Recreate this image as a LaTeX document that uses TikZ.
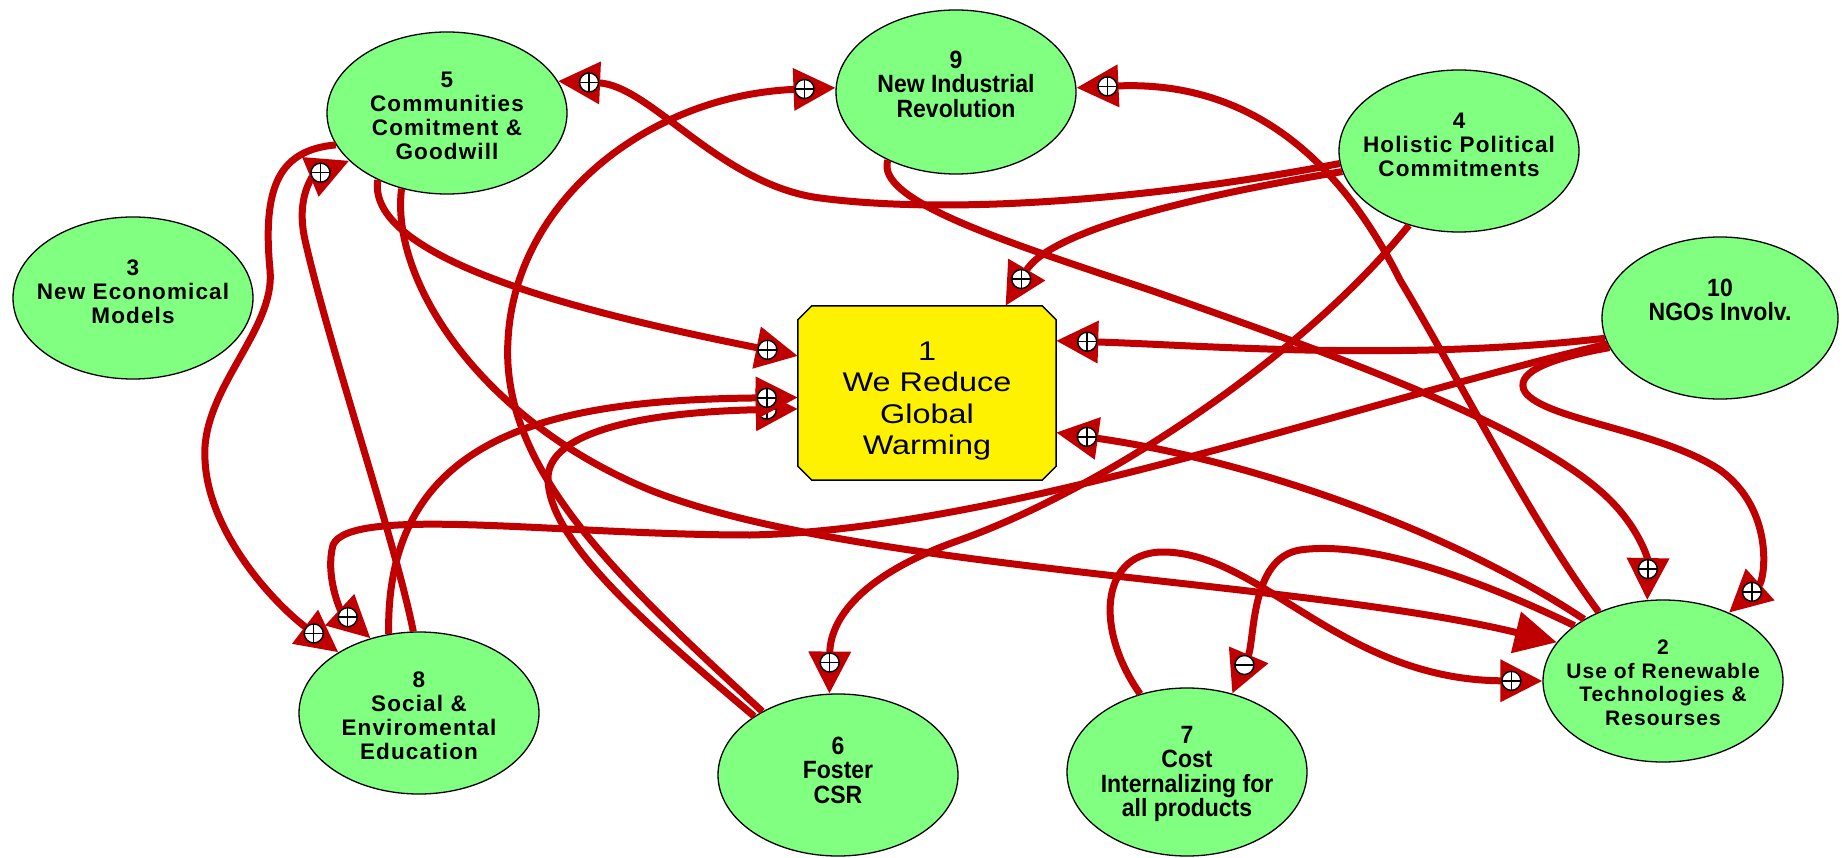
\documentclass[tikz,border=0pt]{standalone}
\usepackage{fontspec}
\setmainfont{Liberation Sans}
\newfontfamily\widefont{Liberation Sans}[LetterSpace=5]
\newfontfamily\narrowfont{Liberation Sans}[FakeStretch=0.92]
\newfontfamily\boxfont{Liberation Sans}[FakeStretch=1.2]
\usetikzlibrary{arrows.meta,shapes.geometric,calc}
\definecolor{linkred}{RGB}{192,0,0}
\definecolor{nodegreen}{RGB}{128,255,128}
\tikzset{
  ell/.style={ellipse, draw=black, line width=1.3pt, fill=nodegreen, minimum width=240pt, minimum height=162pt, inner sep=0pt},
  wlbl/.style={align=center, inner sep=0pt, font=\widefont\bfseries\fontsize{22.5pt}{24pt}\selectfont},
  slbl/.style={align=center, inner sep=0pt, font=\widefont\bfseries\fontsize{21pt}{23.5pt}\selectfont},
  nlbl/.style={align=center, inner sep=0pt, font=\narrowfont\bfseries\fontsize{25pt}{24.5pt}\selectfont},
  glbl/.style={align=center, inner sep=0pt, font=\boxfont\fontsize{27pt}{31.5pt}\selectfont},
  goalframe/.style={rectangle, draw=none, minimum width=258pt, minimum height=174pt, inner sep=0pt},
  goalfill/.style={fill=yellow, draw=black, line width=1.5pt, line join=miter},
  link/.style={draw=linkred, line width=7pt, -{Triangle[length=42pt,width=41pt]}},
  pics/possign/.style={code={
    \draw[black,line width=1.4pt,fill=white] (0,0) circle (9.5pt);
    \draw[black,line width=1.4pt] (0,-9.5) -- (0,9.5) (-9.5,0) -- (9.5,0);}},
  pics/negsign/.style={code={
    \draw[black,line width=1.4pt,fill=white] (0,0) circle (9.5pt);
    \draw[black,line width=1.6pt] (-9.5,0) -- (9.5,0);}}
}
\begin{document}
\begin{tikzpicture}[x=1pt,y=-1pt]
\fill[white] (0,0) rectangle (1842,858);
\useasboundingbox (0,0) rectangle (1842,858);

% goal box (chamfered)
\node[goalframe] (n1) at (927,393) {};
\filldraw[goalfill] ($(n1.north west)+(14,0)$) -- ($(n1.north east)+(-14,0)$) -- ($(n1.north east)+(0,14)$)
  -- ($(n1.south east)+(0,-14)$) -- ($(n1.south east)+(-14,0)$) -- ($(n1.south west)+(14,0)$)
  -- ($(n1.south west)+(0,-14)$) -- ($(n1.north west)+(0,14)$) -- cycle;

% nodes
\node[ell] (n2) at (1663,681) {};
\node[ell] (n3) at (133,298) {};
\node[ell] (n4) at (1459,151) {};
\node[ell] (n5) at (447,113) {};
\node[ell] (n6) at (838,775) {};
\node[ell, minimum height=168pt] (n7) at (1187,772) {};
\node[ell] (n8) at (419,713) {};
\node[ell, minimum height=164pt] (n9) at (956,92) {};
\node[ell, minimum width=236pt] (n10) at (1720,318) {};

% labels
\node[glbl] (t1) at ($(n1)+(0,8)$) {1\\We Reduce\\Global\\Warming};
\node[slbl] (t2) at ($(n2)+(0,2)$) {2\\Use of Renewable\\Technologies \&\\Resourses};
\node[wlbl] (t3) at ($(n3)+(0,-6)$) {3\\New Economical\\Models};
\node[wlbl] (t4) at ($(n4)+(0,-6)$) {4\\Holistic Political\\Commitments};
\node[wlbl] (t5) at ($(n5)+(0,3)$) {5\\Communities\\Comitment \&\\Goodwill};
\node[nlbl] (t6) at ($(n6)+(0,-5)$) {6\\Foster\\CSR};
\node[nlbl] (t7) at ($(n7)+(0,2)$) {7\\Cost\\Internalizing for\\all products};
\node[wlbl] (t8) at ($(n8)+(0,3)$) {8\\Social \&\\Enviromental\\Education};
\node[nlbl] (t9) at ($(n9)+(0,-8)$) {9\\New Industrial\\Revolution};
\node[nlbl] (t10) at ($(n10)+(0,-18)$) {10\\NGOs Involv.};

% 5 -> 1
\draw[link] (n5.224) .. controls (365,265) and (620,320) .. (n1.164);
\pic at ($(n1.164)!31pt!(620,320)$) {possign};
% 6 -> 1
\draw[link] (n6.145) .. controls (640,620) and (550,540) .. (548,480) .. controls (546,430) and (650,412) .. (n1.187);
\pic at ($(n1.187)!31pt!(650,412)$) {possign};
% 8 -> 1
\draw[link] (n8.111) .. controls (385,430) and (560,400) .. (n1.182);
\pic at ($(n1.182)!31pt!(560,400)$) {possign};
% 8 -> 5
\draw[link] (n8.94) .. controls (395,540) and (330,350) .. (305,240) .. controls (295,195) and (315,175) .. (n5.206);
\pic at ($(n5.206)!31pt!(315,175)$) {possign};
% 5 -> 8
\draw[link] (n5.196) .. controls (280,150) and (262,185) .. (270,270) .. controls (276,330) and (200,390) .. (205,460) .. controls (208,530) and (270,600) .. (n8.143);
\pic at ($(n8.143)!31pt!(270,600)$) {possign};
% 10 -> 8
\draw[link] (n10.193) .. controls (1350,405) and (1000,530) .. (750,535) .. controls (560,535) and (350,505) .. (333,545) .. controls (325,575) and (340,610) .. (n8.123);
\pic at ($(n8.123)!31pt!(340,610)$) {possign};
% 4 -> 5
\draw[link] (n4.186) .. controls (1150,200) and (950,215) .. (820,198) .. controls (720,185) and (650,85) .. (n5.16);
\pic at ($(n5.16)!31pt!(650,85)$) {possign};
% 4 -> 1
\draw[link] (n4.190) .. controls (1200,195) and (1050,230) .. (n1.48);
\pic at ($(n1.48)!31pt!(1050,230)$) {possign};
% 4 -> 6
\draw[link] (n4.236) .. controls (1300,360) and (1100,490) .. (960,540) .. controls (860,575) and (830,620) .. (n6.96);
\pic at ($(n6.96)!31pt!(830,620)$) {possign};
% 10 -> 1
\draw[link] (n10.190) .. controls (1400,362) and (1200,345) .. (n1.22);
\pic at ($(n1.22)!31pt!(1200,345)$) {possign};
% 10 -> 2
\draw[link] (n10.195) .. controls (1540,360) and (1515,375) .. (1525,392) .. controls (1545,420) and (1660,430) .. (1720,470) .. controls (1775,510) and (1765,580) .. (n2.46);
\pic at ($(n2.46)!31pt!(1765,580)$) {possign};
% 9 -> 2
\draw[link] (n9.225) .. controls (875,200) and (1000,240) .. (1150,290) .. controls (1350,360) and (1540,430) .. (1610,500) .. controls (1640,530) and (1648,560) .. (n2.101);
\pic at ($(n2.101)!31pt!(1648,560)$) {possign};
% 2 -> 9
\draw[link] (n2.133) .. controls (1530,520) and (1460,380) .. (1400,280) .. controls (1340,160) and (1250,80) .. (n9.2);
\pic at ($(n9.2)!31pt!(1250,80)$) {possign};
% 2 -> 1
\draw[link] (n2.142) .. controls (1450,530) and (1250,460) .. (n1.343);
\pic at ($(n1.343)!31pt!(1250,460)$) {possign};
% 2 -> 7
\draw[link] (n2.148) .. controls (1480,580) and (1370,540) .. (1300,550) .. controls (1250,558) and (1255,640) .. (n7.60);
\pic at ($(n7.60)!31pt!(1255,640)$) {negsign};
% 7 -> 2
\draw[link] (n7.121) .. controls (1095,630) and (1100,555) .. (1160,552) .. controls (1260,550) and (1340,680) .. (n2.180);
\pic at ($(n2.180)!31pt!(1340,680)$) {possign};
% 5 -> 2
\draw[link] (n5.239) .. controls (390,280) and (480,420) .. (650,490) .. controls (850,570) and (1300,580) .. (n2.160);
% 6 -> 9
\draw[link] (n6.140) .. controls (620,580) and (500,470) .. (508,340) .. controls (515,200) and (650,95) .. (n9.178);
\pic at ($(n9.178)!31pt!(650,95)$) {possign};
\end{tikzpicture}
\end{document}
